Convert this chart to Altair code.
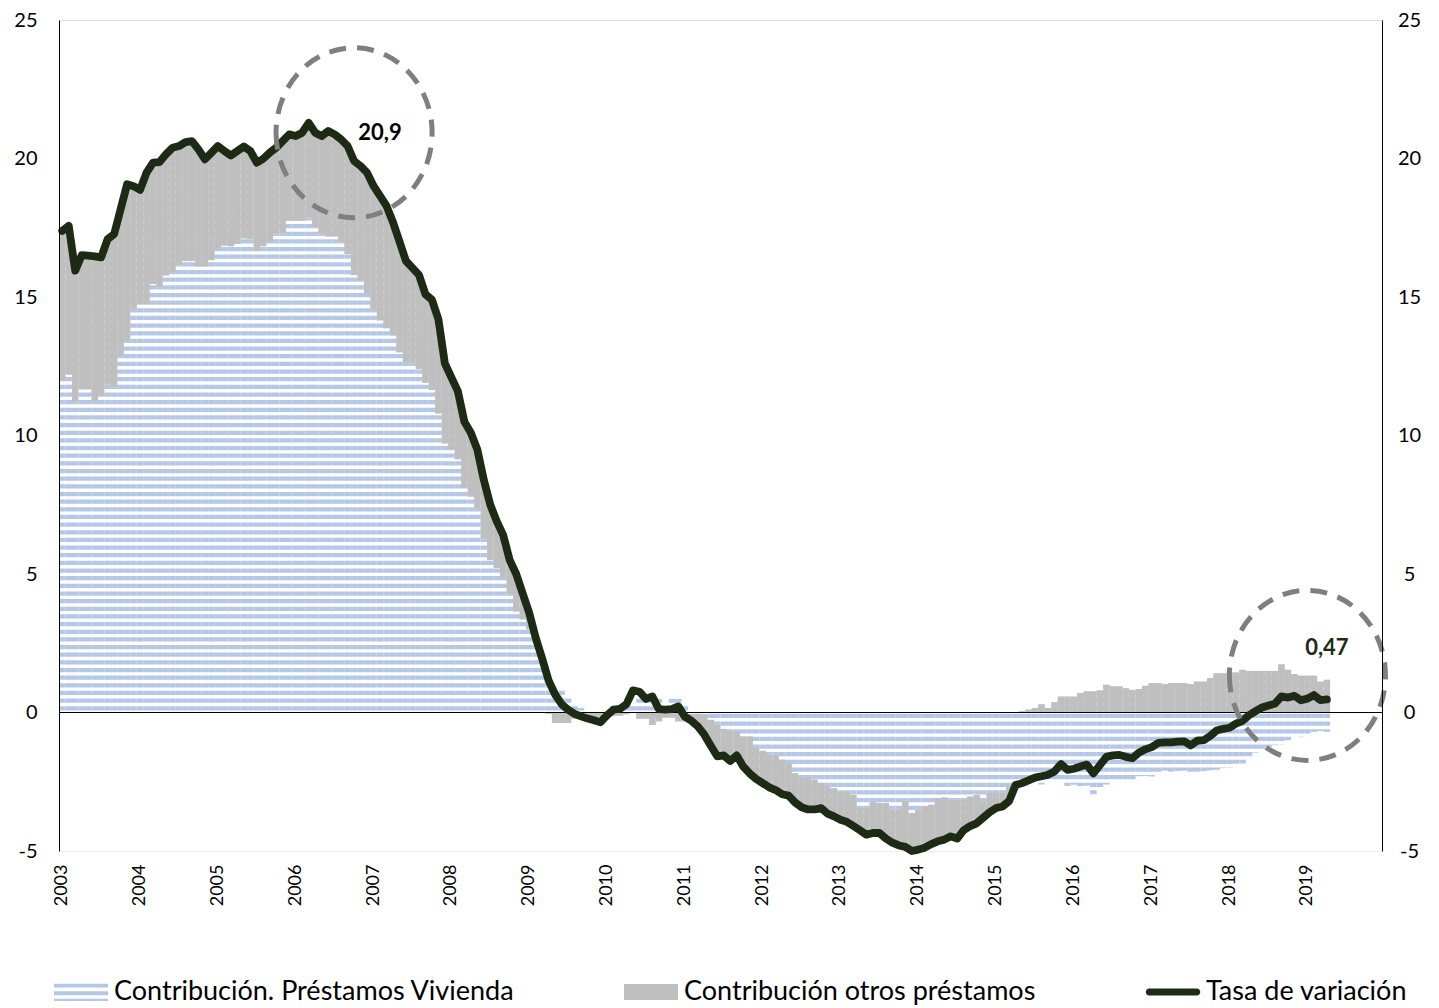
import altair as alt
import pandas as pd

# ---------------- data ----------------
anios = list(range(2003, 2020))
meses_eje = [f"{a}-{m:02d}" for a in anios for m in range(1, 13)]
etiquetas_anio = [f"{a}-01" for a in anios]

vivienda = [
    11.98, 12.19, 11.20, 11.66, 11.66, 11.20, 11.44, 11.83, 11.74, 12.86,
    13.39, 14.56, 14.74, 14.74, 15.47, 15.35, 15.77, 15.89, 16.15, 16.30,
    16.30, 16.10, 16.10, 16.33, 16.73, 16.85, 16.83, 16.91, 17.11, 17.09,
    16.67, 16.83, 16.99, 17.30, 17.30, 17.75, 17.75, 17.75, 17.87, 17.51,
    17.29, 17.18, 17.18, 16.97, 16.55, 15.79, 15.59, 15.14, 14.51, 14.15,
    13.87, 13.61, 13.00, 12.64, 12.64, 12.40, 11.90, 11.64, 10.79, 9.71,
    9.50, 9.14, 8.14, 7.79, 7.36, 6.29, 5.50, 5.21, 4.86, 4.29,
    3.64, 3.36, 3.00, 2.50, 1.80, 1.20, 0.82, 0.82, 0.58, 0.28,
    0.16, 0.05, 0.05, 0.05, 0.05, 0.28, 0.28, 0.34, 0.34, 0.50,
    0.50, 0.50, 0.50, 0.10, 0.50, 0.50, 0.28, -0.05, -0.05, -0.08,
    -0.26, -0.44, -0.59, -0.66, -0.66, -0.86, -0.86, -1.28, -1.38, -1.52,
    -1.52, -1.70, -1.82, -2.19, -2.34, -2.34, -2.42, -2.54, -2.66, -2.73,
    -2.85, -2.91, -2.97, -3.45, -3.45, -3.21, -3.27, -3.27, -3.51, -3.51,
    -3.18, -3.63, -3.51, -3.39, -3.33, -3.09, -3.06, -3.15, -3.15, -3.15,
    -3.03, -2.97, -3.21, -2.91, -2.91, -2.91, -2.66, -2.55, -2.60, -2.55,
    -2.51, -2.60, -2.41, -2.50, -2.44, -2.65, -2.61, -2.65, -2.64, -2.96,
    -2.70, -2.60, -2.49, -2.47, -2.48, -2.47, -2.30, -2.29, -2.31, -2.16,
    -2.10, -2.14, -2.11, -2.10, -2.21, -2.14, -2.12, -2.09, -2.07, -2.01,
    -2.00, -1.85, -1.84, -1.60, -1.45, -1.32, -1.25, -1.18, -1.16, -1.00,
    -0.79, -0.89, -0.83, -0.70, -0.67, -0.70,
]

otros = [
    5.41, 5.38, 4.75, 4.85, 4.83, 5.27, 4.99, 5.26, 5.53, 5.31,
    5.68, 4.44, 4.13, 4.75, 4.38, 4.52, 4.38, 4.50, 4.30, 4.29,
    4.33, 4.23, 3.87, 3.88, 3.72, 3.42, 3.28, 3.36, 3.32, 3.18,
    3.18, 3.16, 3.22, 3.09, 3.33, 3.12, 3.06, 3.18, 3.42, 3.42,
    3.52, 3.81, 3.69, 3.72, 3.90, 4.12, 4.14, 4.35, 4.50, 4.50,
    4.42, 4.09, 4.00, 3.66, 3.41, 3.40, 3.20, 3.26, 3.41, 2.89,
    2.60, 2.46, 2.36, 2.31, 2.14, 2.11, 2.00, 1.69, 1.54, 1.21,
    1.36, 0.94, 0.60, 0.20, 0.10, -0.05, -0.38, -0.38, -0.38, -0.23,
    -0.18, -0.18, -0.18, -0.15, -0.15, -0.11, -0.11, -0.06, 0.00, -0.23,
    -0.23, -0.45, -0.32, -0.18, -0.18, -0.32, -0.32, -0.25, -0.45, -0.72,
    -0.94, -1.14, -0.96, -1.09, -0.89, -1.09, -1.34, -1.12, -1.17, -1.18,
    -1.28, -1.25, -1.18, -1.06, -1.08, -1.16, -1.08, -0.91, -0.99, -1.02,
    -1.02, -1.04, -1.13, -0.80, -0.96, -1.14, -1.08, -1.28, -1.19, -1.29,
    -1.67, -1.37, -1.44, -1.49, -1.42, -1.56, -1.53, -1.32, -1.40, -1.10,
    -1.07, -1.03, -0.59, -0.69, -0.54, -0.48, -0.54, -0.07, 0.05, 0.10,
    0.16, 0.30, 0.16, 0.37, 0.58, 0.58, 0.58, 0.70, 0.76, 0.76,
    0.80, 1.00, 0.94, 0.94, 0.88, 0.82, 0.85, 0.96, 1.06, 1.06,
    1.02, 1.06, 1.06, 1.06, 1.02, 1.12, 1.12, 1.24, 1.42, 1.42,
    1.45, 1.45, 1.54, 1.50, 1.50, 1.50, 1.50, 1.50, 1.74, 1.54,
    1.39, 1.33, 1.33, 1.33, 1.12, 1.18,
]

tasa = [
    17.39, 17.57, 15.95, 16.51, 16.49, 16.47, 16.43, 17.09, 17.27, 18.17,
    19.07, 19.00, 18.87, 19.49, 19.85, 19.87, 20.15, 20.39, 20.45, 20.59,
    20.63, 20.33, 19.97, 20.21, 20.45, 20.27, 20.11, 20.27, 20.43, 20.27,
    19.85, 19.99, 20.21, 20.39, 20.63, 20.87, 20.81, 20.93, 21.29, 20.93,
    20.81, 20.99, 20.87, 20.69, 20.45, 19.91, 19.73, 19.49, 19.01, 18.65,
    18.29, 17.70, 17.00, 16.30, 16.05, 15.80, 15.10, 14.90, 14.20, 12.60,
    12.10, 11.60, 10.50, 10.10, 9.50, 8.40, 7.50, 6.90, 6.40, 5.50,
    5.00, 4.30, 3.60, 2.70, 1.95, 1.15, 0.65, 0.30, 0.10, -0.05,
    -0.14, -0.22, -0.28, -0.35, -0.10, 0.10, 0.13, 0.30, 0.80, 0.75,
    0.49, 0.58, 0.12, 0.10, 0.12, 0.22, -0.15, -0.30, -0.50, -0.80,
    -1.20, -1.58, -1.55, -1.75, -1.55, -1.95, -2.20, -2.40, -2.55, -2.70,
    -2.80, -2.95, -3.00, -3.25, -3.42, -3.50, -3.50, -3.45, -3.65, -3.75,
    -3.87, -3.95, -4.10, -4.25, -4.41, -4.35, -4.35, -4.55, -4.70, -4.80,
    -4.85, -5.00, -4.95, -4.88, -4.75, -4.65, -4.59, -4.47, -4.55, -4.25,
    -4.10, -4.00, -3.80, -3.60, -3.45, -3.39, -3.20, -2.62, -2.55, -2.45,
    -2.35, -2.30, -2.25, -2.13, -1.86, -2.07, -2.03, -1.95, -1.88, -2.20,
    -1.90, -1.60, -1.55, -1.53, -1.60, -1.65, -1.45, -1.33, -1.25, -1.10,
    -1.08, -1.08, -1.05, -1.04, -1.19, -1.02, -1.00, -0.85, -0.65, -0.59,
    -0.55, -0.40, -0.30, -0.10, 0.05, 0.18, 0.25, 0.32, 0.58, 0.54,
    0.60, 0.44, 0.50, 0.63, 0.45, 0.47,
]

serie_viv = "Contribución. Préstamos Vivienda"
serie_otr = "Contribución otros préstamos"
serie_tasa = "Tasa de variación"
series = [serie_viv, serie_otr, serie_tasa]

circ_mes = ["2006-10", "2019-01"]
circ_val = [20.93, 1.34]
txt_mes = ["2007-02", "2019-04"]
txt_val = [20.93, 2.32]
txt_lab = ["20,9", "0,47"]

# ---------------- styles ----------------
AZUL = "#b4c7e7"
GRIS = "#bfbfbf"
VERDE = "#1e2b14"
GRIS_CIRC = "#7f7f7f"
FONT = "Lato"

n = len(tasa)
meses = meses_eje[:n]
wide = pd.DataFrame({"mes": meses, "tasa": tasa})
long = pd.DataFrame({
    "mes": meses + meses,
    "serie": [serie_viv] * n + [serie_otr] * n,
    "valor": vivienda + otros,
    "orden": [0] * n + [1] * n,
})
circ_df = pd.DataFrame({"mes": circ_mes, "valor": circ_val})
txt_df = pd.DataFrame({"mes": txt_mes, "valor": txt_val, "lab": txt_lab})
leg_df = pd.DataFrame({"serie": series})

xscale = alt.Scale(domain=meses_eje, paddingInner=0, paddingOuter=0)
yscale = alt.Scale(domain=[-5, 25], nice=False, zero=False)

x_axis = alt.Axis(
    values=etiquetas_anio, labelExpr="substring(datum.value, 0, 4)",
    labelAngle=270, labelAlign="right", labelBaseline="middle",
    labelFont=FONT, labelFontSize=18, labelColor="black",
    labelPadding=13, ticks=False, tickSize=0, domain=False, grid=False,
    labelOverlap=False,
)
left_axis = alt.Axis(
    orient="left", values=[-5, 0, 5, 10, 15, 20, 25], labelExpr="datum.value + ''",
    ticks=False, tickSize=0, domainColor="black", domainWidth=1, grid=False,
    labelFont=FONT, labelFontSize=20, labelColor="black", labelPadding=22, zindex=1,
)
right_axis = alt.Axis(
    orient="right", values=[-5, 0, 5, 10, 15, 20, 25], labelExpr="datum.value + ''",
    ticks=False, tickSize=0, domainColor="black", domainWidth=1, grid=False,
    labelFont=FONT, labelFontSize=20, labelColor="black", labelPadding=27,
    labelAlign="center", zindex=1,
)

X_main = alt.X("mes:O", scale=xscale, axis=x_axis, title=None)
X_plain = alt.X("mes:O", scale=xscale, axis=None, title=None)

# stacked bars (blue housing + gray others)
bars = alt.Chart(long).mark_bar(strokeWidth=0).encode(
    x=X_main,
    y=alt.Y("valor:Q", stack="zero", scale=yscale, axis=left_axis, title=None),
    detail="serie:N",
    order=alt.Order("orden:Q"),
    color=alt.condition("datum.orden == 0", alt.value(AZUL), alt.value(GRIS)),
)

# white horizontal stripes giving the pattern of the housing bars
stripes = alt.Chart(alt.sequence(-5.2364, 25.1, 0.2763, as_="s")).mark_rule(
    color="white", strokeWidth=3.4
).encode(y=alt.Y("s:Q", scale=yscale, axis=None, title=None))

# gray bars drawn again on top of stripes
bars_gray = alt.Chart(long).mark_bar(strokeWidth=0).encode(
    x=X_plain,
    y=alt.Y("valor:Q", stack="zero", scale=yscale, axis=None, title=None),
    detail="serie:N",
    order=alt.Order("orden:Q"),
    color=alt.value(GRIS),
    opacity=alt.condition("datum.orden == 1", alt.value(1), alt.value(0)),
)

zero = alt.Chart(wide).mark_rule(color="black", strokeWidth=1).encode(
    y=alt.Y(datum=0, type="quantitative", scale=yscale, axis=None)
)

line = alt.Chart(wide).mark_line(
    color=VERDE, strokeWidth=7.8, strokeJoin="round", strokeCap="round"
).encode(
    x=X_plain,
    y=alt.Y("tasa:Q", scale=yscale, axis=right_axis, title=None),
)

ELIPSE = "M-0.918,0A0.918,1,0,1,0,0.918,0A0.918,1,0,1,0,-0.918,0Z"
circles = alt.Chart(circ_df).mark_point(
    shape=ELIPSE, size=28900, filled=False, color=GRIS_CIRC,
    strokeWidth=5, strokeDash=[17, 11], opacity=1,
).encode(x=X_plain, y=alt.Y("valor:Q", scale=yscale, axis=None))

txt1 = alt.Chart(txt_df.iloc[[0]]).mark_text(
    font=FONT, fontSize=22, fontWeight="bold", color="black",
    align="center", baseline="middle",
).encode(x=X_plain, y=alt.Y("valor:Q", scale=yscale, axis=None), text="lab:N")
txt2 = alt.Chart(txt_df.iloc[[1]]).mark_text(
    font=FONT, fontSize=22, fontWeight="bold", color=VERDE,
    align="center", baseline="middle",
).encode(x=X_plain, y=alt.Y("valor:Q", scale=yscale, axis=None), text="lab:N")

P_VIV = "M-1,-0.31H1V-0.17H-1Z M-1,-0.03H1V0.12H-1Z M-1,0.25H1V0.33H-1Z"
P_OTR = "M-1,-0.3H1V0.3H-1Z"
P_TASA = "M-0.88,-0.13H0.88A0.13,0.13,0,0,1,0.88,0.13H-0.88A0.13,0.13,0,0,1,-0.88,-0.13Z"

# legend-only layer: its points are clipped away off the plot
legend_layer = alt.Chart(leg_df).mark_point(filled=True, clip=True, opacity=1).encode(
    x=alt.value(-3000),
    y=alt.value(-3000),
    color=alt.Color(
        "serie:N", title=None,
        scale=alt.Scale(domain=series, range=[AZUL, GRIS, VERDE]),
        legend=alt.Legend(
            orient="none", legendX=-5, legendY=945, direction="horizontal",
            labelFont=FONT, labelFontSize=27, labelColor="black",
            symbolSize=2916, symbolStrokeWidth=0, symbolOpacity=1,
            columnPadding=109, labelOffset=6, padding=0, labelLimit=600,
        ),
    ),
    shape=alt.Shape(
        "serie:N", title=None,
        scale=alt.Scale(domain=series, range=[P_VIV, P_OTR, P_TASA]),
    ),
)

chart = alt.layer(
    bars, stripes, bars_gray, zero, line, circles, txt1, txt2, legend_layer
).resolve_axis(x="independent", y="independent").properties(
    width=1323, height=831,
    padding={"left": 5, "top": 2, "right": 5, "bottom": 0},
).configure_view(stroke=None).configure(background="white")

chart.save("out.html", embed_options={"renderer": "svg", "actions": False})
